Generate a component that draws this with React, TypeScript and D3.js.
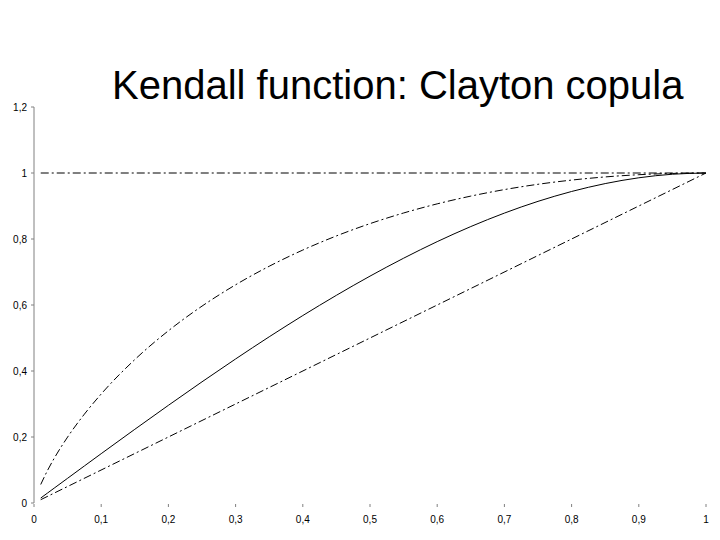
import React from "react";
import * as d3 from "d3";

const title = "Kendall function: Clayton copula";
const tValues = [0.01, 0.02, 0.03, 0.05, 0.075, 0.1, 0.15, 0.2, 0.25, 0.3, 0.35, 0.4, 0.45, 0.5, 0.55, 0.6, 0.65, 0.7, 0.75, 0.8, 0.85, 0.9, 0.95, 1];
const upperValues = [0.0561, 0.0982, 0.1352, 0.1998, 0.2693, 0.3303, 0.4346, 0.5219, 0.5966, 0.6612, 0.7174, 0.7665, 0.8093, 0.8466, 0.8788, 0.9065, 0.93, 0.9497, 0.9658, 0.9785, 0.9881, 0.9948, 0.9987, 1];
const claytonValues = [0.015, 0.03, 0.045, 0.0749, 0.1123, 0.1495, 0.2233, 0.296, 0.3672, 0.4365, 0.5036, 0.568, 0.6294, 0.6875, 0.7418, 0.792, 0.8377, 0.8785, 0.9141, 0.944, 0.9679, 0.9855, 0.9963, 1];
const diagonalT = [0.01, 1];
const diagonalValues = [0.01, 1];
const upperBoundT = [0.01, 1];
const upperBoundValues = [1, 1];
const xTicks = [0, 0.1, 0.2, 0.3, 0.4, 0.5, 0.6, 0.7, 0.8, 0.9, 1];
const xTickLabels = ["0", "0,1", "0,2", "0,3", "0,4", "0,5", "0,6", "0,7", "0,8", "0,9", "1"];
const yTicks = [0, 0.2, 0.4, 0.6, 0.8, 1, 1.2];
const yTickLabels = ["0", "0,2", "0,4", "0,6", "0,8", "1", "1,2"];

export default function App() {
  const x = d3.scaleLinear().domain([0, 1]).range([34, 706]);
  const y = d3.scaleLinear().domain([0, 1.2]).range([503, 107]);
  const line = d3
    .line<[number, number]>()
    .x((d) => x(d[0]))
    .y((d) => y(d[1]))
    .curve(d3.curveMonotoneX);
  const zip = (a: number[], b: number[]) => a.map((v, i) => [v, b[i]] as [number, number]);
  const dash = "8,3,2,3";
  const font = "'Liberation Sans', Arial, sans-serif";
  return (
    <svg width={720} height={540} style={{ position: "absolute", left: 0, top: 0, background: "#fff" }}>
      <rect width={720} height={540} fill="#fff" />
      <text x={112} y={99} fontFamily={font} fontSize={40} fill="#000">
        {title}
      </text>
      <line x1={x(0)} x2={x(0)} y1={y(0)} y2={y(1.2)} stroke="#808080" strokeWidth={1} />
      {yTicks.map((v, i) => (
        <g key={"y" + i}>
          <line x1={x(0) - 3} x2={x(0)} y1={y(v)} y2={y(v)} stroke="#808080" />
          <text x={27} y={y(v)} dy="0.35em" textAnchor="end" fontFamily={font} fontSize={10} fill="#000">
            {yTickLabels[i]}
          </text>
        </g>
      ))}
      {xTicks.map((v, i) => (
        <g key={"x" + i}>
          <line x1={x(v)} x2={x(v)} y1={y(0) + 1} y2={y(0) + 4} stroke="#808080" />
          <text x={x(v)} y={523} textAnchor="middle" fontFamily={font} fontSize={10} fill="#000">
            {xTickLabels[i]}
          </text>
        </g>
      ))}
      <path d={line(zip(upperBoundT, upperBoundValues)) || ""} fill="none" stroke="#000" strokeWidth={1} strokeDasharray={dash} />
      <path d={line(zip(tValues, upperValues)) || ""} fill="none" stroke="#000" strokeWidth={1} strokeDasharray={dash} />
      <path d={line(zip(diagonalT, diagonalValues)) || ""} fill="none" stroke="#000" strokeWidth={1} strokeDasharray={dash} />
      <path d={line(zip(tValues, claytonValues)) || ""} fill="none" stroke="#000" strokeWidth={1} />
    </svg>
  );
}
